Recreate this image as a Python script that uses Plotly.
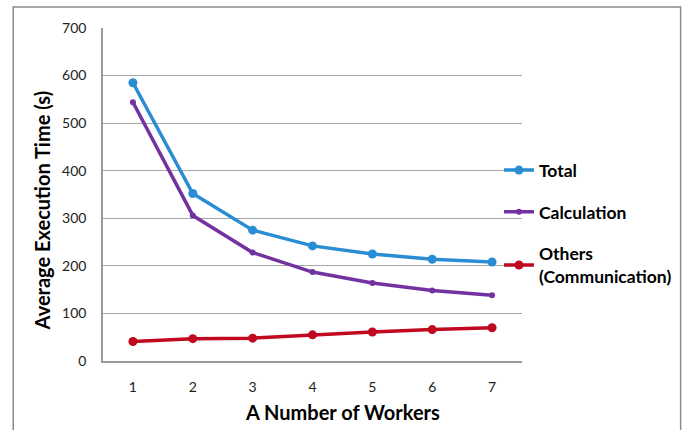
import plotly.graph_objects as go

# Number of workers (category axis)
workers = ["1", "2", "3", "4", "5", "6", "7"]

# Average execution time in seconds for each component
total = [585, 352, 275, 242, 225, 214, 208]
calculation = [544, 306, 228, 187, 164, 148, 138]
others = [41, 47, 48, 55, 61, 66, 70]

y_ticks = [0, 100, 200, 300, 400, 500, 600, 700]

FONT = "Lato, 'Open Sans', sans-serif"

fig = go.Figure()

fig.add_trace(go.Scatter(
    x=workers, y=total, name="Total", mode="lines+markers", legendgroup="a",
    line=dict(color="#2A8DD4", width=3.5),
    marker=dict(size=9, color="#2A8DD4"),
))
fig.add_trace(go.Scatter(
    x=workers, y=calculation, name="Calculation", mode="lines+markers", legendgroup="b",
    line=dict(color="#7232A0", width=3.5),
    marker=dict(size=6, color="#7232A0"),
))
fig.add_trace(go.Scatter(
    x=workers, y=others, name="Others<br>(Communication)", mode="lines+markers",
    legendgroup="c",
    line=dict(color="#C0081E", width=3.5),
    marker=dict(size=9, color="#C0081E"),
))

# Outer chart frame
fig.add_shape(
    type="rect", xref="paper", yref="paper",
    x0=-0.2143, x1=1.3786, y0=-0.25, y1=1.063,
    line=dict(color="#8C8C8C", width=1.5), fillcolor="rgba(0,0,0,0)",
    layer="below",
)

# Axis titles
fig.add_annotation(
    text="<b>Average Execution Time (s)</b>", xref="paper", yref="paper",
    x=-0.145, y=0.453, xanchor="center", yanchor="middle",
    textangle=-90, showarrow=False,
    font=dict(family=FONT, size=20, color="#000000"),
)
fig.add_annotation(
    text="<b>A Number of Workers</b>", xref="paper", yref="paper",
    x=0.5726, y=-0.152, xanchor="center", yanchor="middle", showarrow=False,
    font=dict(family=FONT, size=20, color="#000000"),
)

fig.update_layout(
    width=697, height=430,
    margin=dict(l=103, r=175, t=28, b=69),
    paper_bgcolor="white", plot_bgcolor="white",
    font=dict(family=FONT, size=13, color="#222222"),
    showlegend=True,
    legend=dict(
        x=0.945, y=0.627, xanchor="left", yanchor="top",
        font=dict(family=FONT, size=17.5, color="#000000", weight="bold"),
        bgcolor="rgba(0,0,0,0)", itemwidth=30, tracegroupgap=16,
    ),
    xaxis=dict(
        type="category", range=[-0.5, 6.5],
        showgrid=False, showline=True, linecolor="#9A9A9A", linewidth=1.5,
        ticks="", ticklabelstandoff=12, tickfont=dict(size=14, color="#222222"),
        fixedrange=True,
    ),
    yaxis=dict(
        range=[0, 700], tickvals=y_ticks,
        showgrid=True, gridcolor="#A6A6A6", gridwidth=1.2,
        showline=True, linecolor="#9A9A9A", linewidth=1.5,
        ticks="", ticklabelstandoff=12, tickfont=dict(size=14, color="#222222"),
        zeroline=False, fixedrange=True,
    ),
)

fig.write_html("out.html")
